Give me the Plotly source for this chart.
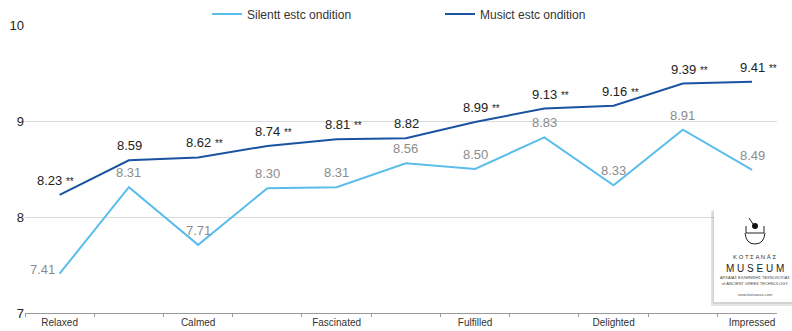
import plotly.graph_objects as go

# ---- data ----
tick_labels = ["Relaxed", "", "Calmed", "", "Fascinated", "", "Fulfilled", "", "Delighted", "", "Impressed"]
silent_values = [7.41, 8.31, 7.71, 8.30, 8.31, 8.56, 8.50, 8.83, 8.33, 8.91, 8.49]
music_values = [8.23, 8.59, 8.62, 8.74, 8.81, 8.82, 8.99, 9.13, 9.16, 9.39, 9.41]
music_significant = [True, False, True, True, True, False, True, True, True, True, True]
silent_name = "Silentt estc ondition"
music_name = "Musict estc ondition"

x_idx = list(range(len(tick_labels)))

W, H = 792, 331
L, R, T, B = 25, 15, 25, 18
PW, PH = W - L - R, H - T - B


def px(x):
    return (x - L) / PW


def py(y):
    return (H - B - y) / PH


SILENT_C = "#5bbdea"
MUSIC_C = "#1b53a3"

fig = go.Figure()
fig.add_trace(go.Scatter(x=x_idx, y=silent_values, mode="lines", name=silent_name,
                         line=dict(color=SILENT_C, width=2), hoverinfo="skip"))
fig.add_trace(go.Scatter(x=x_idx, y=music_values, mode="lines", name=music_name,
                         line=dict(color=MUSIC_C, width=2), hoverinfo="skip"))

annotations = []
for i, (v, sig) in enumerate(zip(music_values, music_significant)):
    txt = f"{v:.2f}" + (" <span style='font-size:10px'>**</span>" if sig else "")
    annotations.append(dict(x=i, y=v, xref="x", yref="y", text=txt, showarrow=False,
                            xanchor="left", yanchor="bottom",
                            xshift=(-25 if i == 0 else -14), yshift=5,
                            font=dict(family="Liberation Sans, Arial", size=13, color="#222222")))
for i, v in enumerate(silent_values):
    if i == 0:
        annotations.append(dict(x=i, y=v, xref="x", yref="y", text=f"{v:.2f}", showarrow=False,
                                xanchor="right", yanchor="middle", xshift=-3, yshift=4,
                                font=dict(family="Liberation Sans, Arial", size=13, color="#8c8c8c")))
    else:
        annotations.append(dict(x=i, y=v, xref="x", yref="y", text=f"{v:.2f}", showarrow=False,
                                xanchor="center", yanchor="bottom", yshift=5,
                                font=dict(family="Liberation Sans, Arial", size=13, color="#8c8c8c")))

# ---- logo box (Kotsanas Museum) ----
shapes = [
    dict(type="rect", xref="paper", yref="paper", x0=px(711), x1=px(795), y0=py(306), y1=py(211),
         fillcolor="rgba(0,0,0,0.10)", line=dict(width=0), layer="above"),
    dict(type="rect", xref="paper", yref="paper", x0=px(712.5), x1=px(795), y0=py(304), y1=py(210),
         fillcolor="rgba(0,0,0,0.08)", line=dict(width=0), layer="above"),
    dict(type="rect", xref="paper", yref="paper", x0=px(714), x1=px(795), y0=py(302), y1=py(209),
         fillcolor="white", line=dict(width=0), layer="above"),
    # cup
    dict(type="path", xref="paper", yref="paper",
         path=f"M{px(746)},{py(226)} L{px(746)},{py(233)} L{px(764)},{py(233)} L{px(764)},{py(226)}",
         line=dict(color="#222", width=1), layer="above"),
    dict(type="path", xref="paper", yref="paper",
         path=(f"M{px(745)},{py(233)} Q{px(746)},{py(244)} {px(755)},{py(244)} "
               f"Q{px(764)},{py(244)} {px(765)},{py(233)}"),
         line=dict(color="#222", width=1), layer="above"),
    dict(type="line", xref="paper", yref="paper", x0=px(749), y0=py(218), x1=px(753), y1=py(224),
         line=dict(color="#222", width=1), layer="above"),
    dict(type="circle", xref="paper", yref="paper", x0=px(752), x1=px(758), y0=py(229), y1=py(223),
         fillcolor="#111", line=dict(width=0), layer="above"),
]

logo_texts = [
    ("K O T Σ A N Á Σ", 257, 6, "#333"),
    ("M U S E U M", 268, 10, "#222"),
    ("ΑΡΧΑΙΑΣ ΕΛΛΗΝΙΚΗΣ ΤΕΧΝΟΛΟΓΙΑΣ", 277, 4, "#444"),
    ("of ANCIENT GREEK TECHNOLOGY", 283, 4, "#444"),
    ("www.kotsanas.com", 294, 4, "#555"),
]
for t, yy, s, c in logo_texts:
    annotations.append(dict(x=px(755), y=py(yy), xref="paper", yref="paper", text=t, showarrow=False,
                            xanchor="center", yanchor="middle",
                            font=dict(family="Liberation Sans, Arial", size=s, color=c)))

fig.update_layout(
    width=W, height=H,
    margin=dict(l=L, r=R, t=T, b=B, autoexpand=False),
    paper_bgcolor="white", plot_bgcolor="white",
    font=dict(family="Liberation Sans, Arial", color="#333"),
    showlegend=True,
    legend=dict(orientation="h", xref="paper", x=px(207), xanchor="left",
                yref="container", y=1 - 14 / H, yanchor="middle",
                entrywidth=188, entrywidthmode="pixels",
                font=dict(size=12, color="#333"), itemwidth=30,
                bgcolor="rgba(0,0,0,0)"),
    xaxis=dict(range=[-0.5, 10.36], tickmode="array", tickvals=x_idx, ticktext=tick_labels,
               automargin=False,
               showgrid=False, zeroline=False, showline=True, linecolor="#999", linewidth=1,
               ticks="", tickfont=dict(size=10, color="#333"),
               minor=dict(tickmode="linear", tick0=-0.5, dtick=1, ticks="outside", ticklen=3,
                          tickcolor="#999", showgrid=False)),
    yaxis=dict(range=[7, 10], tickmode="array", tickvals=[7, 8, 9, 10], showgrid=True,
               automargin=False,
               gridcolor="#d9d9d9", gridwidth=1, zeroline=False, showline=False, ticks="",
               tickfont=dict(size=13, color="#222")),
    shapes=shapes,
    annotations=annotations,
)

fig.write_html("out.html")
